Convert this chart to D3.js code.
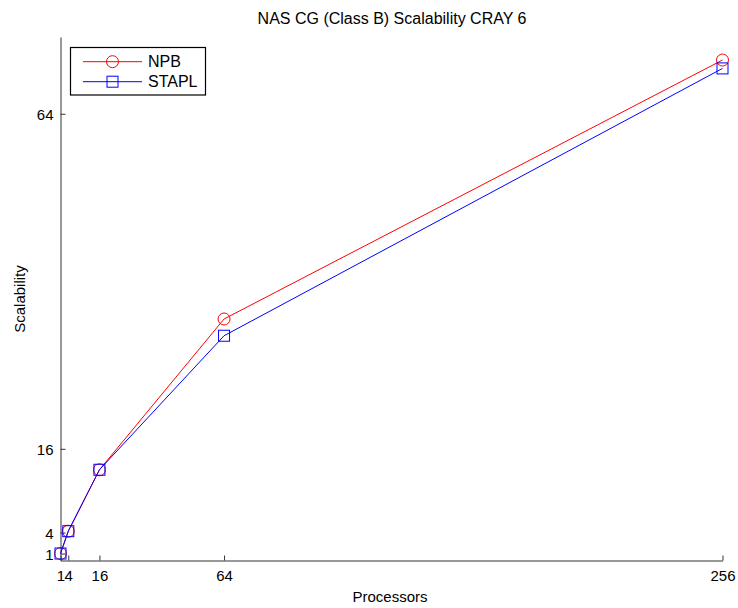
<!DOCTYPE html>
<html>
<head>
<meta charset="utf-8">
<title>NAS CG Scalability</title>
<script src="https://d3js.org/d3.v7.min.js"></script>
<style>
body { margin: 0; background: #fff; }
svg text { font-family: "Liberation Sans", Arial, sans-serif; }
</style>
</head>
<body>
<svg width="738" height="608"></svg>
<script>
// data
var processors = [1, 4, 16, 64, 256];
var npb = [1, 4.2, 13, 34.6, 71.7];
var stapl = [1, 4.2, 13, 32.2, 70.5];
var xTicks = [1, 4, 16, 64, 256];
var yTicks = [1, 4, 16, 64];

var svg = d3.select('svg');
var plotLeft = 60.5, plotRight = 722.5, plotTop = 37, plotBottom = 560.5;

var x = d3.scaleLinear().domain([1, 256]).range([plotLeft, plotRight]);
var y = d3.scaleLinear().domain([0, 75]).range([plotBottom, plotTop]);

// axes, ticks pointing inwards like matlab
var xAxis = svg.append('g')
  .attr('transform', 'translate(0,' + plotBottom + ')')
  .call(d3.axisBottom(x).tickValues(xTicks).tickSizeInner(-5).tickSizeOuter(0).tickPadding(9));
var yAxis = svg.append('g')
  .attr('transform', 'translate(' + plotLeft + ',0)')
  .call(d3.axisLeft(y).tickValues(yTicks).tickSizeInner(-5).tickSizeOuter(0).tickPadding(7));

[xAxis, yAxis].forEach(function(a) {
  a.select('.domain').attr('stroke', '#333');
  a.selectAll('.tick line').attr('stroke', '#333');
  a.selectAll('.tick text')
    .attr('font-size', '15px')
    .attr('fill', '#000')
    .style('font-family', '"Liberation Sans", Arial, sans-serif');
});
xAxis.selectAll('.tick text').attr('y', 10);
yAxis.selectAll('.tick text').attr('dy', '0.37em');

var series = [
  { name: 'NPB', values: npb, color: '#ff0000', marker: 'circle' },
  { name: 'STAPL', values: stapl, color: '#0000ff', marker: 'square' }
];

var line = d3.line()
  .x(function(d) { return x(d[0]); })
  .y(function(d) { return y(d[1]); });

function drawMarker(g, type, cx, cy, color) {
  if (type == 'circle') {
    g.append('circle').attr('cx', cx).attr('cy', cy).attr('r', 6)
      .attr('fill', 'none').attr('stroke', color).attr('stroke-width', 1);
  } else {
    g.append('rect').attr('x', cx - 5.5).attr('y', cy - 5.5)
      .attr('width', 11).attr('height', 11)
      .attr('fill', 'none').attr('stroke', color).attr('stroke-width', 1);
  }
}

series.forEach(function(s) {
  var pts = processors.map(function(p, i) { return [p, s.values[i]]; });
  svg.append('path')
    .attr('d', line(pts))
    .attr('fill', 'none')
    .attr('stroke', s.color)
    .attr('stroke-width', 1);
  var g = svg.append('g');
  pts.forEach(function(p) {
    drawMarker(g, s.marker, x(p[0]), y(p[1]), s.color);
  });
});

// legend
var leg = svg.append('g');
leg.append('rect')
  .attr('x', 70.5).attr('y', 47.5)
  .attr('width', 135).attr('height', 47.5)
  .attr('fill', '#fff').attr('stroke', '#000').attr('stroke-width', 1.2);
series.forEach(function(s, i) {
  var ly = 61.7 + i * 20;
  leg.append('line')
    .attr('x1', 83).attr('x2', 142)
    .attr('y1', ly).attr('y2', ly)
    .attr('stroke', s.color).attr('stroke-width', 1);
  drawMarker(leg, s.marker, 112.5, ly, s.color);
  leg.append('text')
    .attr('x', 148).attr('y', ly + 5.5)
    .attr('font-size', '16px')
    .text(s.name);
});

// titles
svg.append('text')
  .attr('x', 392).attr('y', 24)
  .attr('text-anchor', 'middle')
  .attr('font-size', '16px')
  .text('NAS CG (Class B) Scalability CRAY 6');
svg.append('text')
  .attr('x', 390).attr('y', 602)
  .attr('text-anchor', 'middle')
  .attr('font-size', '15px')
  .text('Processors');
svg.append('text')
  .attr('transform', 'translate(25,299) rotate(-90)')
  .attr('text-anchor', 'middle')
  .attr('font-size', '15px')
  .text('Scalability');
</script>
</body>
</html>
